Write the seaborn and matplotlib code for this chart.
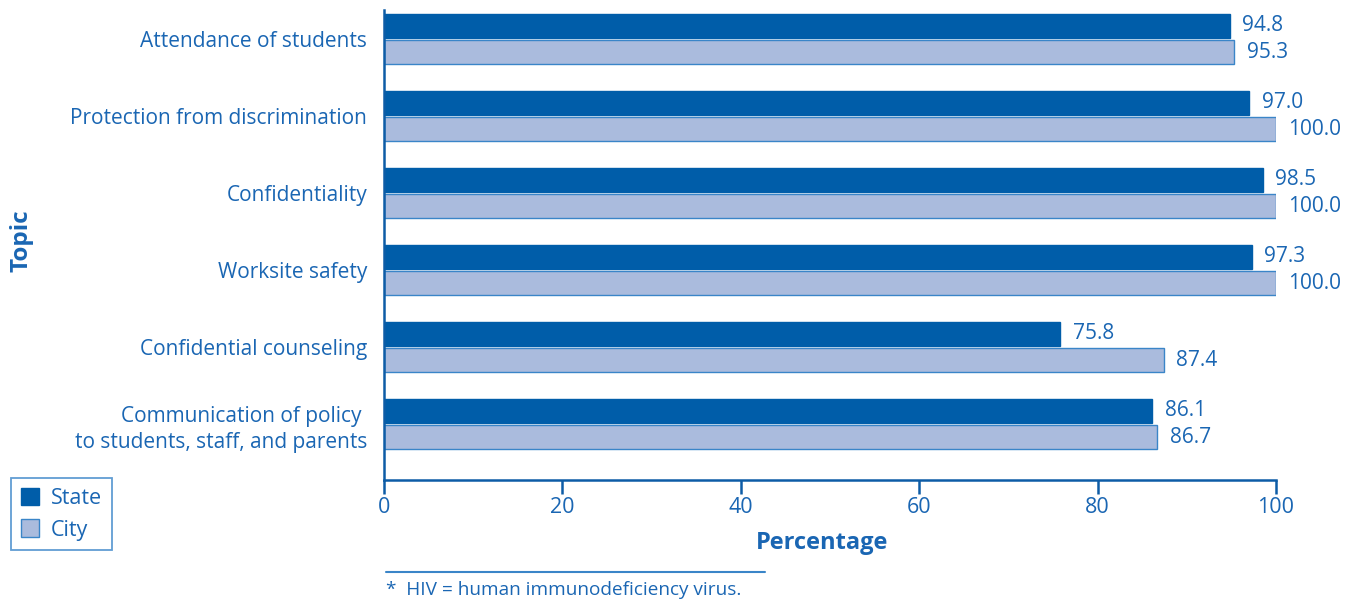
import matplotlib
matplotlib.use("Agg")
import matplotlib.pyplot as plt
import seaborn as sns
import pandas as pd
from matplotlib.patches import Patch
from matplotlib.lines import Line2D

topics = ["Attendance of students", "Protection from discrimination", "Confidentiality",
          "Worksite safety", "Confidential counseling",
          "Communication of policy \nto students, staff, and parents"]
state_vals = [94.8, 97.0, 98.5, 97.3, 75.8, 86.1]
city_vals = [95.3, 100.0, 100.0, 100.0, 87.4, 86.7]
series = ["State", "City"]
xticks = [0, 20, 40, 60, 80, 100]

TXT = "#1a66b3"
AX = "#0d5ca6"
STATE_C = "#005da9"
CITY_C = "#aabbdd"
EDGE = "#3a85c8"

df = pd.DataFrame({
    "Topic": topics * 2,
    "Percentage": state_vals + city_vals,
    "Group": ["State"] * len(topics) + ["City"] * len(topics),
})

sns.set_theme(style="white")
plt.rcParams['font.family'] = ['Open Sans', 'DejaVu Sans']

fig = plt.figure(figsize=(13.54, 6.0), dpi=100)
ax = fig.add_axes([384/1354, 1-480/600, (1276-384)/1354, (480-10)/600])

sns.barplot(data=df, y="Topic", x="Percentage", hue="Group", hue_order=series,
            palette={"State": STATE_C, "City": CITY_C}, orient="h",
            width=0.68, gap=0.06, ax=ax, legend=False, saturation=1)

for cont, ec in zip(ax.containers, [STATE_C, EDGE]):
    for p in cont:
        p.set_edgecolor(ec)
        p.set_linewidth(1.0)

for cont in ax.containers:
    ax.bar_label(cont, fmt="%.1f", padding=9, color=TXT, fontsize=15)

ax.set_xlim(0, 100)
ax.set_ylim(5.727, -0.377)
ax.set_xticks(xticks)
ax.set_xticklabels([str(v) for v in xticks])
ax.tick_params(axis="x", colors=AX, labelcolor=TXT, labelsize=15.5, length=10, width=1.8,
               direction="out", pad=2, bottom=True)
ax.tick_params(axis="y", length=0, labelcolor=TXT, labelsize=15, pad=12)
for lbl in ax.get_yticklabels():
    lbl.set_multialignment("right")
    lbl.set_linespacing(1.35)

for s in ["top", "right"]:
    ax.spines[s].set_visible(False)
for s in ["left", "bottom"]:
    ax.spines[s].set_color(AX)
    ax.spines[s].set_linewidth(1.8)
ax.grid(False)

ax.set_xlabel("Percentage", fontsize=17, fontweight="bold", color=TXT)
ax.xaxis.set_label_coords((822-384)/892, -(543-480)/470)
ax.xaxis.label.set_va("center")
ax.set_ylabel("Topic", fontsize=17.5, fontweight="bold", color=TXT)
ax.yaxis.set_label_coords(-(384-22)/892, (480-241)/470)
ax.yaxis.label.set_va("center")

handles = [Patch(facecolor=STATE_C, edgecolor=STATE_C, label="State"),
           Patch(facecolor=CITY_C, edgecolor=EDGE, label="City")]
leg = fig.legend(handles=handles, loc="upper left", bbox_to_anchor=(11/1354, 1-478/600),
                 frameon=True, fontsize=15.5, handlelength=0.85, handleheight=0.85,
                 handletextpad=0.55, labelcolor=TXT, borderpad=0.45, labelspacing=0.5,
                 borderaxespad=0, fancybox=False)
leg.get_frame().set_edgecolor(EDGE)
leg.get_frame().set_linewidth(1.3)

fig.add_artist(Line2D([386/1354, 765/1354], [1-572/600, 1-572/600], color=EDGE, lw=1.5))
fig.text(386/1354, 1-590/600, "*  HIV = human immunodeficiency virus.", color=TXT,
         fontsize=13.7, va="center", ha="left")

fig.savefig("out.png", dpi=100)
